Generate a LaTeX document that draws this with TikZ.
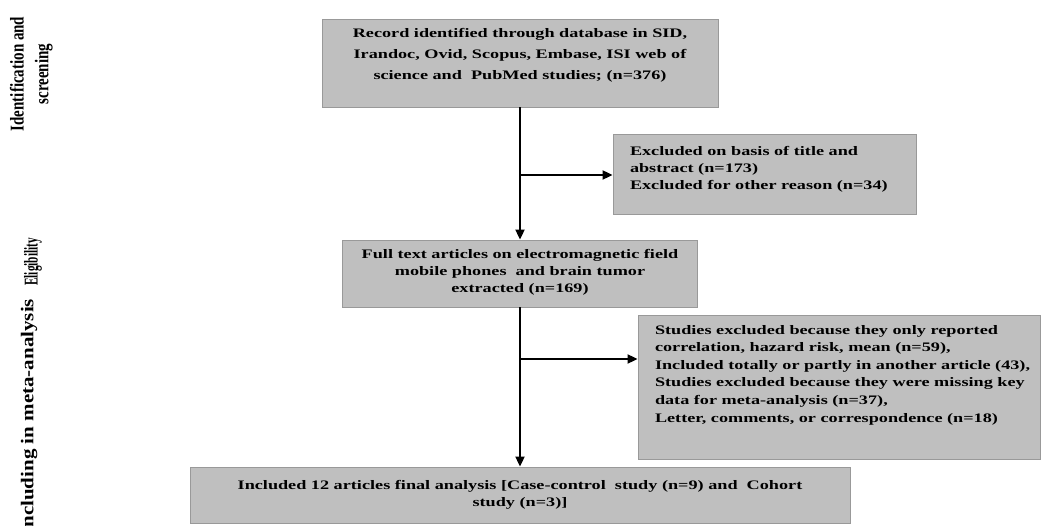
\documentclass[tikz,border=0pt]{standalone}
\usepackage{fontspec}
\setmainfont{Liberation Serif}[FakeStretch=1.4]
\newfontfamily\sidefont{Liberation Serif}
\usepackage{graphicx}
\usetikzlibrary{arrows.meta}

\newcommand{\boxtxt}[4]{\parbox[c][#2][t]{#1}{\vspace*{#3}#4}}

\tikzset{
  flowbox/.style={draw=black!40, line width=0.8pt, fill=black!25, inner xsep=17pt, inner ysep=0pt,
    font=\fontsize{13pt}{17pt}\selectfont\bfseries},
  flowarrow/.style={line width=1.8pt, -{Triangle[length=10pt,width=9pt]}},
  sidelabel/.style={rotate=90, inner sep=0pt, font=\sidefont\bfseries\fontsize{15pt}{19pt}\selectfont}
}

\begin{document}
\begin{tikzpicture}[x=1pt, y=-1pt]
  \useasboundingbox (0,0) rectangle (1041,526);
  % stages
  \node[flowbox, font=\fontsize{13pt}{21pt}\selectfont\bfseries] (rec) at (520,63) {\boxtxt{362pt}{88pt}{9pt}{\centering Record identified through database in SID,\\Irandoc, Ovid, Scopus, Embase, ISI web of\\science and \ PubMed studies; (n=376)}};
  \node[flowbox] (excl1) at (764.5,174) {\boxtxt{269pt}{80pt}{12pt}{\raggedright Excluded on basis of title and\\abstract (n=173)\\Excluded for other reason (n=34)}};
  \node[flowbox] (full)  at (520,273.5) {\boxtxt{321pt}{67pt}{9pt}{\centering Full text articles on electromagnetic field\\mobile phones \ and brain tumor\\extracted (n=169)}};
  \node[flowbox, font=\fontsize{13pt}{17.6pt}\selectfont\bfseries] (excl2) at (839,387) {\boxtxt{368pt}{144pt}{10pt}{\raggedright Studies excluded because they only reported\\correlation, hazard risk, mean (n=59),\\\mbox{Included totally or partly in another article (43),}\\\mbox{Studies excluded because they were missing key}\\data for meta-analysis (n=37),\\Letter, comments, or correspondence (n=18)}};
  \node[flowbox] (incl)  at (520,495)   {\boxtxt{626pt}{56pt}{13pt}{\centering Included 12 articles final analysis [Case-control \ study (n=9) and \ Cohort\\study (n=3)]}};
  % phases
  \node[sidelabel] (ident) at (31,74) {\scalebox{1}[1.3]{\begin{tabular}{@{}c@{}}Identification and\\screening\end{tabular}}};
  \node[sidelabel] (elig) at (33,262) {\scalebox{0.75}[1.3]{Eligibility}};
  \node[sidelabel, anchor=west] (meta) at (29,536) {\scalebox{1.4}[1.2]{Including in meta-analysis}};
  % arrows
  \coordinate (b1) at (520,175);
  \coordinate (b2) at (520,359);
  \draw[flowarrow] (rec.south) -- (full.north);
  \draw[flowarrow] (b1) -- (excl1.west |- b1);
  \draw[flowarrow] (full.south) -- (incl.north);
  \draw[flowarrow] (b2) -- (excl2.west |- b2);
\end{tikzpicture}
\end{document}
